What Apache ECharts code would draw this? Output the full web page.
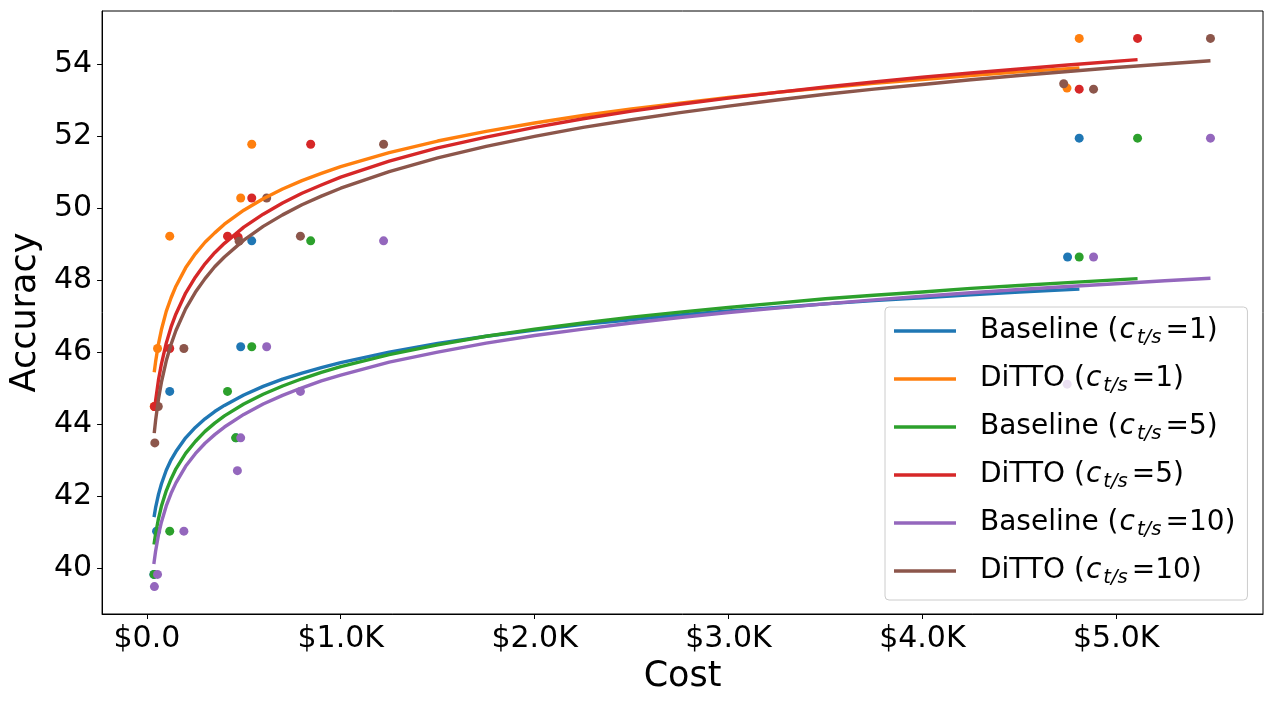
<!DOCTYPE html>
<html><head><meta charset="utf-8">
<script src="https://cdn.jsdelivr.net/npm/echarts@6/dist/echarts.min.js"></script>
<style>html,body{margin:0;padding:0;background:#fff}#c{width:1272px;height:704px}</style>
</head><body><div id="c"></div>
<script>
// ---- data ----
const methods = ['Baseline', 'DiTTO', 'Baseline', 'DiTTO', 'Baseline', 'DiTTO'];
const ratios = [1, 1, 5, 5, 10, 10];
const colors = ['#1f77b4', '#ff7f0e', '#2ca02c', '#d62728', '#9467bd', '#8c564b'];
const seriesNames = ['Baseline (c_t/s=1)', 'DiTTO (c_t/s=1)', 'Baseline (c_t/s=5)', 'DiTTO (c_t/s=5)', 'Baseline (c_t/s=10)', 'DiTTO (c_t/s=10)'];

const xTickValues = [0, 1000, 2000, 3000, 4000, 5000];
const xTickLabels = ['$0.0', '$1.0K', '$2.0K', '$3.0K', '$4.0K', '$5.0K'];
const yTickValues = [40, 42, 44, 46, 48, 50, 52, 54];

// scatter points [cost, accuracy]
const baseline1Pts = [[36,39.83],[50,41.03],[118,44.91],[460,43.62],[484,46.15],[541,49.09],[4749,48.64],[4809,51.94]];
const ditto1Pts = [[38,44.49],[55,46.10],[118,49.22],[484,50.28],[541,51.77],[4746,53.33],[4809,54.71]];
const baseline5Pts = [[37,39.83],[118,41.03],[416,44.91],[458,43.62],[541,46.15],[845,49.09],[4809,48.64],[5110,51.94]];
const ditto5Pts = [[39,44.49],[118,46.10],[416,49.22],[471,49.19],[541,50.28],[845,51.77],[4809,53.30],[5110,54.71]];
const baseline10Pts = [[39,39.49],[55,39.83],[191,41.03],[467,42.71],[484,43.62],[618,46.15],[792,44.91],[1221,49.09],[4747,45.11],[4883,48.64],[5486,51.94]];
const ditto10Pts = [[41,43.48],[59,44.49],[191,46.10],[476,49.08],[618,50.28],[792,49.22],[1221,51.77],[4729,53.45],[4883,53.30],[5486,54.71]];

// fitted curves [cost, accuracy]
const baseline1Curve = [[37,41.42],[45,41.68],[60,42.05],[75,42.34],[100,42.72],[125,43.01],[150,43.24],[200,43.62],[250,43.91],[300,44.15],[350,44.35],[400,44.52],[500,44.81],[600,45.05],[700,45.25],[800,45.42],[900,45.57],[1000,45.71],[1250,46.00],[1500,46.24],[1750,46.44],[2000,46.61],[2250,46.77],[2500,46.90],[2750,47.03],[3000,47.14],[3250,47.24],[3500,47.34],[3750,47.43],[4000,47.51],[4250,47.59],[4500,47.67],[4810,47.75]];
const ditto1Curve = [[38,45.44],[45,45.73],[60,46.23],[75,46.62],[100,47.13],[125,47.51],[150,47.83],[200,48.34],[250,48.73],[300,49.05],[350,49.31],[400,49.55],[500,49.94],[600,50.26],[700,50.53],[800,50.76],[900,50.96],[1000,51.15],[1250,51.54],[1500,51.86],[1750,52.13],[2000,52.36],[2250,52.57],[2500,52.75],[2750,52.91],[3000,53.07],[3250,53.21],[3500,53.34],[3750,53.46],[4000,53.57],[4250,53.68],[4500,53.78],[4810,53.89]];
const baseline5Curve = [[37,40.66],[45,40.95],[60,41.38],[75,41.72],[100,42.15],[125,42.48],[150,42.76],[200,43.19],[250,43.52],[300,43.80],[350,44.03],[400,44.23],[500,44.56],[600,44.83],[700,45.06],[800,45.26],[900,45.44],[1000,45.60],[1250,45.93],[1500,46.20],[1750,46.44],[2000,46.64],[2250,46.81],[2500,46.97],[2750,47.11],[3000,47.24],[3250,47.36],[3500,47.48],[3750,47.58],[4000,47.67],[4250,47.77],[4500,47.85],[4750,47.93],[5110,48.04]];
const ditto5Curve = [[39,44.37],[45,44.65],[60,45.23],[75,45.67],[100,46.25],[125,46.70],[150,47.06],[200,47.64],[250,48.08],[300,48.45],[350,48.76],[400,49.02],[500,49.47],[600,49.83],[700,50.14],[800,50.41],[900,50.64],[1000,50.86],[1250,51.30],[1500,51.67],[1750,51.97],[2000,52.24],[2250,52.48],[2500,52.69],[2750,52.88],[3000,53.05],[3250,53.21],[3500,53.36],[3750,53.50],[4000,53.63],[4250,53.75],[4500,53.86],[4750,53.97],[5110,54.12]];
const baseline10Curve = [[36,40.12],[45,40.47],[60,40.93],[75,41.28],[100,41.73],[125,42.08],[150,42.37],[200,42.83],[250,43.18],[300,43.47],[350,43.71],[400,43.92],[500,44.27],[600,44.56],[700,44.80],[800,45.01],[900,45.20],[1000,45.36],[1250,45.72],[1500,46.00],[1750,46.25],[2000,46.46],[2250,46.64],[2500,46.81],[2750,46.96],[3000,47.10],[3250,47.22],[3500,47.34],[3750,47.45],[4000,47.55],[4250,47.65],[4500,47.74],[4750,47.82],[5000,47.90],[5250,47.98],[5486,48.05]];
const ditto10Curve = [[38,43.75],[45,44.10],[60,44.70],[75,45.16],[100,45.76],[125,46.22],[150,46.60],[200,47.20],[250,47.66],[300,48.04],[350,48.37],[400,48.64],[500,49.11],[600,49.49],[700,49.81],[800,50.09],[900,50.33],[1000,50.55],[1250,51.01],[1500,51.39],[1750,51.71],[2000,51.99],[2250,52.24],[2500,52.45],[2750,52.65],[3000,52.83],[3250,53.00],[3500,53.16],[3750,53.30],[4000,53.43],[4250,53.56],[4500,53.68],[4750,53.79],[5000,53.90],[5250,54.00],[5486,54.09]];

const allPts = [baseline1Pts, ditto1Pts, baseline5Pts, ditto5Pts, baseline10Pts, ditto10Pts];
const allCurves = [baseline1Curve, ditto1Curve, baseline5Curve, ditto5Curve, baseline10Curve, ditto10Curve];

// ---- chart ----
const FONT = 'DejaVu Sans';
const chart = echarts.init(document.getElementById('c'), null, {renderer: 'canvas', devicePixelRatio: 1});
const series = [];
for (let i = 0; i < 6; i++) {
  series.push({
    type: 'scatter', name: seriesNames[i] + ' pts', data: allPts[i],
    symbolSize: 9, itemStyle: {color: colors[i], opacity: 1}, silent: true
  });
  series.push({
    type: 'line', name: seriesNames[i], data: allCurves[i],
    showSymbol: false, symbol: 'none', smooth: false,
    lineStyle: {color: colors[i], width: 3.4, join: 'round', cap: 'butt'}, itemStyle: {color: colors[i]}, silent: true
  });
}
const rich = {
  p: {fontFamily: FONT, fontSize: 28, color: '#000', lineHeight: 34, padding: [0, 0, 0, 19]},
  i: {fontFamily: FONT, fontSize: 28, color: '#000', lineHeight: 34, fontStyle: 'italic', padding: [0, 1, 0, 1]},
  s: {fontFamily: FONT, fontSize: 19.6, color: '#000', lineHeight: 34, fontStyle: 'italic', padding: [14, 4, 0, 1]},
  n: {fontFamily: FONT, fontSize: 28, color: '#000', lineHeight: 34}
};
chart.setOption({
  animation: false,
  backgroundColor: '#fff',
  grid: {left: 101, right: 9, top: 11, bottom: 90, show: true, borderColor: '#000', borderWidth: 1, backgroundColor: 'transparent'},
  xAxis: {
    type: 'value', min: -231, max: 5757,
    name: 'Cost', nameLocation: 'middle', nameGap: 45,
    nameTextStyle: {fontFamily: FONT, fontSize: 35, color: '#000'},
    axisLine: {show: true, onZero: false, lineStyle: {color: '#000', width: 1}},
    axisTick: {show: true, customValues: xTickValues, length: 5, lineStyle: {color: '#000', width: 1}},
    axisLabel: {customValues: xTickValues, fontFamily: FONT, fontSize: 30, color: '#000', margin: 10,
      formatter: v => { const k = xTickValues.indexOf(v); return k >= 0 ? xTickLabels[k] : ''; }},
    splitLine: {show: false}
  },
  yAxis: {
    type: 'value', min: 38.73, max: 55.47,
    name: 'Accuracy', nameLocation: 'middle', nameGap: 56,
    nameTextStyle: {fontFamily: FONT, fontSize: 35, color: '#000'},
    axisLine: {show: true, onZero: false, lineStyle: {color: '#000', width: 1}},
    axisTick: {show: true, customValues: yTickValues, length: 5, lineStyle: {color: '#000', width: 1}},
    axisLabel: {customValues: yTickValues, fontFamily: FONT, fontSize: 30, color: '#000', margin: 10,
      formatter: v => String(v)},
    splitLine: {show: false}
  },
  legend: {
    data: seriesNames.map(n => ({name: n, icon: 'rect'})),
    orient: 'vertical', left: 885, top: 307,
    itemWidth: 62, itemHeight: 3.5, itemGap: 14,
    padding: [7, 12, 12, 9],
    backgroundColor: 'rgba(255,255,255,0.8)', borderColor: '#cccccc', borderWidth: 1, borderRadius: 4,
    selectedMode: false,
    formatter: name => {
      const i = seriesNames.indexOf(name);
      return '{p|' + methods[i] + ' (}{i|c}{s|t/s}{n|=' + ratios[i] + ')}';
    },
    textStyle: {rich: rich}
  },
  series: series
});
</script>
</body></html>
